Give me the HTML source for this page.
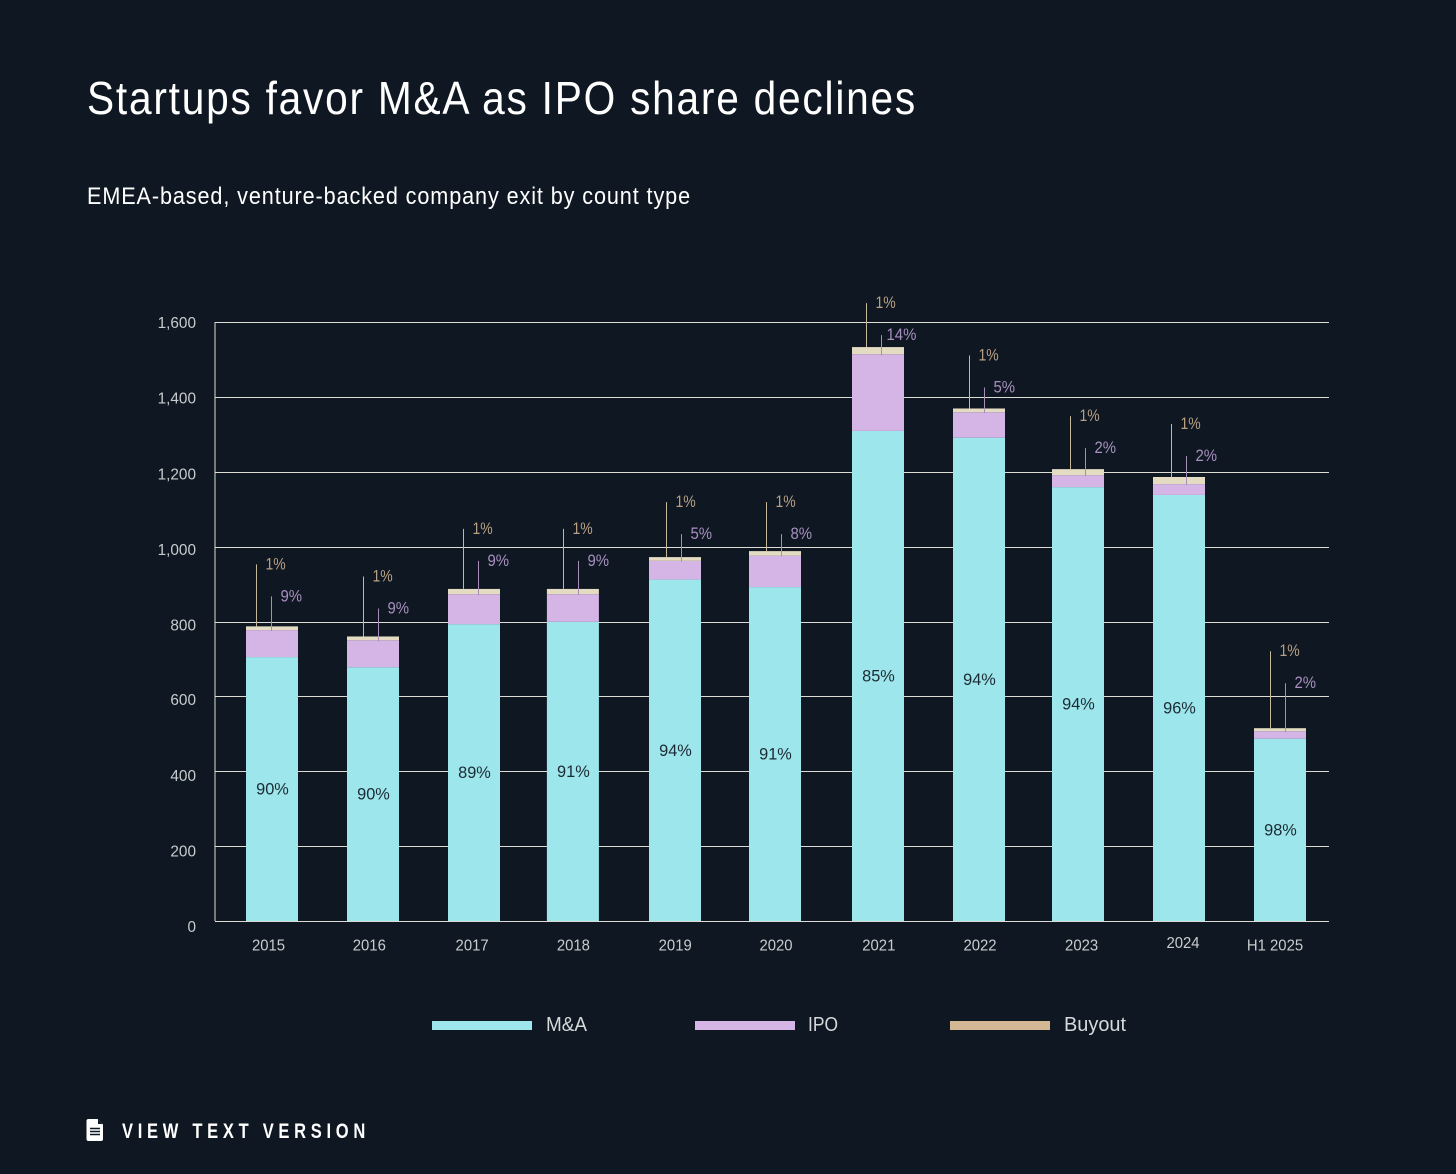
<!DOCTYPE html>
<html lang="en">
<head>
<meta charset="utf-8">
<title>Startups favor M&amp;A as IPO share declines</title>
<style>
  html, body { margin: 0; padding: 0; background: #0f1822; }
  body { width: 1456px; height: 1174px; overflow: hidden; }
  svg { display: block; font-family: "Liberation Sans", sans-serif; }
</style>
</head>
<body>
<svg id="chart" width="1456" height="1174" viewBox="0 0 1456 1174">
  <rect width="1456" height="1174" fill="#0f1822"/>
  <text x="87" y="114" font-size="46" letter-spacing="2" fill="#ffffff" textLength="830" lengthAdjust="spacingAndGlyphs">Startups favor M&amp;A as IPO share declines</text>
  <text x="87" y="204" font-size="24" letter-spacing="1" fill="#ffffff" textLength="604" lengthAdjust="spacingAndGlyphs">EMEA-based, venture-backed company exit by count type</text>
  <g id="grid"></g>
  <g id="bars"></g>
  <g id="labels"></g>
  <g id="ticks"></g>
  <g>
    <rect x="432" y="1021" width="100" height="9" fill="#9de6ec"/>
    <text x="546" y="1031" font-size="20" fill="#d6dadc" textLength="41" lengthAdjust="spacingAndGlyphs">M&amp;A</text>
    <rect x="695" y="1021" width="100" height="9" fill="#d5b4e6"/>
    <text x="808" y="1031" font-size="20" fill="#d6dadc" textLength="30" lengthAdjust="spacingAndGlyphs">IPO</text>
    <rect x="950" y="1021" width="100" height="9" fill="#d4b896"/>
    <text x="1064" y="1031" font-size="20" fill="#d6dadc" textLength="62" lengthAdjust="spacingAndGlyphs">Buyout</text>
  </g>
  <g>
    <path d="M88.500 1119 H97.500 L103 1124.500 V1139 Q103 1141 101 1141 H88.500 Q86.500 1141 86.500 1139 V1121 Q86.500 1119 88.500 1119 Z" fill="#ffffff"/>
    <path d="M98 1119.500 L102.500 1124 H98 Z" fill="#0f1822"/>
    <path d="M90 1128.500 H100 M90 1131.500 H100 M90 1134.500 H100" stroke="#0f1822" stroke-width="1.400"/>
    <text x="122" y="1138" font-size="21" font-weight="700" letter-spacing="6" fill="#ffffff" textLength="248" lengthAdjust="spacingAndGlyphs">VIEW TEXT VERSION</text>
  </g>
</svg>
<script>
// Chart data
const categories = ['2015', '2016', '2017', '2018', '2019', '2020', '2021', '2022', '2023', '2024', 'H1 2025'];
const maCounts = [705, 678, 793, 799, 912, 892, 1309, 1291, 1159, 1138, 487];
const ipoCounts = [72, 72, 80, 74, 50, 84, 205, 68, 32, 29, 20];
const buyoutCounts = [10, 10, 14, 14, 10, 12, 19, 10, 16, 19, 8];
const maShareLabels = ['90%', '90%', '89%', '91%', '94%', '91%', '85%', '94%', '94%', '96%', '98%'];
const ipoShareLabels = ['9%', '9%', '9%', '9%', '5%', '8%', '14%', '5%', '2%', '2%', '2%'];
const buyoutShareLabels = ['1%', '1%', '1%', '1%', '1%', '1%', '1%', '1%', '1%', '1%', '1%'];
const yTickValues = [0, 200, 400, 600, 800, 1000, 1200, 1400, 1600];

// Hand-placement quirks of the original graphic, as offsets from the computed layout
const barNudge = [0, 0.2, 0.4, -1.5, -0.2, -1, 1.2, 1.4, -0.4, -0.2, 0];
const tickNudge = [-3.5, -3.5, -1.5, -1, 0, 0, 2, 2.4, 3.2, 3.8, -5];
const calloutLift = [62, 60, 60, 60, 55, 49, 44, 53, 53, 53, 77];
const calloutShift = [-16, -10, -11, -9.500, -9, -9, -12, -10, -8, -8, -10];

const SVGNS = 'http://www.w3.org/2000/svg';
const plot = { left: 215, right: 1329, top: 322, bottom: 921, maxValue: 1600, firstCenter: 272, step: 100.8, barWidth: 52 };

function yScale(value) {
  return plot.bottom - (value / plot.maxValue) * (plot.bottom - plot.top);
}
function xCenter(index) {
  return plot.firstCenter + index * plot.step + barNudge[index];
}
function make(parent, tag, attrs) {
  const el = document.createElementNS(SVGNS, tag);
  for (const key in attrs) el.setAttribute(key, attrs[key]);
  parent.appendChild(el);
  return el;
}
function squeeze(el, factor) {
  el.setAttribute('textLength', (el.getComputedTextLength() * factor).toFixed(1));
  el.setAttribute('lengthAdjust', 'spacingAndGlyphs');
}

const gridGroup = document.getElementById('grid');
const barGroup = document.getElementById('bars');
const labelGroup = document.getElementById('labels');
const tickGroup = document.getElementById('ticks');

const yAxis = make(gridGroup, 'line', { x1: plot.left, x2: plot.left, y1: plot.top, y2: plot.bottom, stroke: '#dcdcd4', 'stroke-width': 1 });



yTickValues.forEach(function (value) {
  const y = Math.round(yScale(value)) + 0.5;
  const line = make(gridGroup, 'line', { x1: plot.left, x2: plot.right, y1: y, y2: y, stroke: '#dcdcd4', 'stroke-width': 1 });
  
  
  // The original tick labels drift slightly below their gridlines toward the bottom of the axis
  const drift = 5 * (1 - value / plot.maxValue);
  const label = make(tickGroup, 'text', { x: 196, y: y + 5.5 + drift, 'font-size': 16, fill: '#c8ccce', 'text-anchor': 'end' });
  label.textContent = value.toLocaleString('en-US');
  
  
  squeeze(label, 0.96);
});

categories.forEach(function (category, i) {
  const center = xCenter(i);
  const left = center - plot.barWidth / 2;
  const maTop = yScale(maCounts[i]);
  const ipoTop = yScale(maCounts[i] + ipoCounts[i]);
  const buyoutTop = yScale(maCounts[i] + ipoCounts[i] + buyoutCounts[i]);

  const maBar = make(barGroup, 'rect', { x: left, y: maTop, width: plot.barWidth, height: plot.bottom - maTop, fill: '#9de6ec' });
  
  

  const ipoBar = make(barGroup, 'rect', { x: left, y: ipoTop, width: plot.barWidth, height: maTop - ipoTop, fill: '#d5b4e6' });
  
  

  const buyoutBar = make(barGroup, 'rect', { x: left, y: buyoutTop, width: plot.barWidth, height: ipoTop - buyoutTop, fill: '#e4dcc2' });
  
  

  const buyoutX = Math.round(center + calloutShift[i]) + 0.5;
  const ipoX = buyoutX + 15;
  const buyoutTipY = buyoutTop - calloutLift[i];
  const ipoTipY = buyoutTipY + 32;

  const buyoutLeader = make(labelGroup, 'line', { x1: buyoutX, x2: buyoutX, y1: buyoutTipY, y2: buyoutTop, stroke: '#c6b99a', 'stroke-width': 1 });
  
  

  const ipoLeader = make(labelGroup, 'line', { x1: ipoX, x2: ipoX, y1: ipoTipY, y2: ipoTop + 1, stroke: '#a78db8', 'stroke-width': 1 });
  
  

  const buyoutLabel = make(labelGroup, 'text', { x: buyoutX + 9, y: buyoutTipY + 5, 'font-size': 17, fill: '#b9a083' });
  buyoutLabel.textContent = buyoutShareLabels[i];
  
  
  squeeze(buyoutLabel, 0.82);

  const ipoGap = ipoShareLabels[i].length > 2 ? 5 : 9;
  const ipoLabel = make(labelGroup, 'text', { x: ipoX + ipoGap, y: ipoTipY + 5, 'font-size': 17, fill: '#a88fc0' });
  ipoLabel.textContent = ipoShareLabels[i];
  
  
  squeeze(ipoLabel, 0.88);

  const maLabel = make(labelGroup, 'text', { x: center + 0.5, y: (maTop + plot.bottom) / 2 + 5.5, 'font-size': 17, fill: '#1c2a33', 'text-anchor': 'middle' });
  maLabel.textContent = maShareLabels[i];
  
  
  squeeze(maLabel, 0.96);

  const tick = make(tickGroup, 'text', { x: plot.firstCenter + i * plot.step + tickNudge[i], y: category === '2024' ? 948 : 950.5, 'font-size': 16, fill: '#c8ccce', 'text-anchor': 'middle' });
  tick.textContent = category;
  
  
  squeeze(tick, 0.93);
});
</script>
</body>
</html>
